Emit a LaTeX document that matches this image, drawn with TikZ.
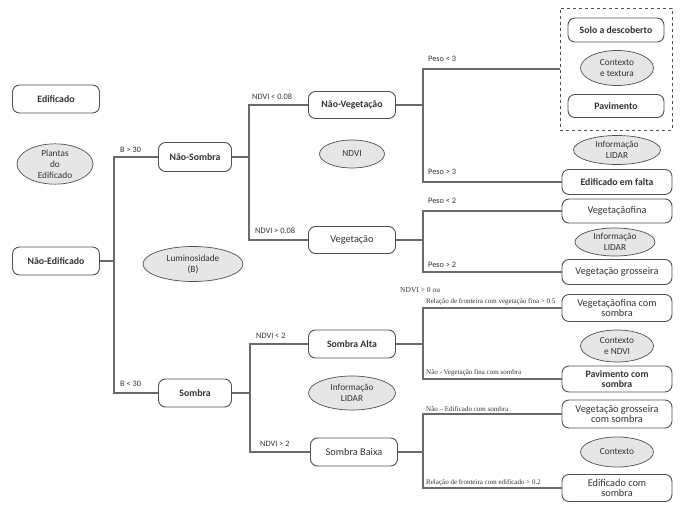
\documentclass[tikz,border=0pt]{standalone}
\usepackage{fontspec}
\setmainfont{Carlito}
\newfontfamily\tinyserif{Liberation Serif}
\usetikzlibrary{shapes.geometric}
\definecolor{ln}{HTML}{6A6A6A}
\definecolor{bd}{HTML}{505050}
\definecolor{tx}{HTML}{333333}
\definecolor{ef}{HTML}{E6E6E6}
\tikzset{
  rbox/.style={draw=bd, line width=0.9pt, rounded corners=7pt, fill=white, text=tx, font=\fontsize{10.3}{11}\selectfont, align=center, inner sep=1pt},
  bbox/.style={rbox, font=\bfseries\fontsize{9.8}{11}\selectfont},
  ell/.style={ellipse, draw=bd, line width=0.7pt, fill=ef, text=tx, font=\fontsize{9.3}{11}\selectfont, align=center, inner sep=0pt},
  conn/.style={draw=ln, line width=1.1pt},
  elab/.style={text=tx, font=\fontsize{8.3}{9}\selectfont, inner sep=0pt, anchor=west},
  slab/.style={text=tx, font=\tinyserif\fontsize{7}{7}\selectfont, inner sep=0pt, anchor=west},
}
\begin{document}
\begin{tikzpicture}[x=1pt,y=-1pt]
\useasboundingbox (0,0) rectangle (683,505);
% level 0
\node[bbox, minimum width=87, minimum height=28] (edif) at (56,99) {Edificado};
\node[ell, minimum width=76, minimum height=38] (plantas) at (55,164) {Plantas\\do\\Edificado};
\node[bbox, minimum width=87, minimum height=28] (nedif) at (56,261) {Não-Edificado};
\node[ell, minimum width=100, minimum height=35] (lum) at (193,264) {Luminosidade\\(B)};
% level 1
\node[bbox, minimum width=73, minimum height=29] (nsomb) at (195,157) {Não-Sombra};
\node[bbox, minimum width=73, minimum height=28] (somb) at (195,393) {Sombra};
\coordinate (j1) at (114,261);
\draw[conn] (nedif.east) -- (j1);
\draw[conn] (nsomb.west) -| (j1) |- (somb.west);
\node[elab] at (120,150) {B > 30};
\node[elab] at (120,384) {B < 30};
% level 2 top
\node[bbox, minimum width=87, minimum height=27] (nveg) at (352,105) {Não-Vegetação};
\node[ell, minimum width=65, minimum height=28] (ndvi) at (352,154) {NDVI};
\node[rbox, minimum width=87, minimum height=27] (veg) at (352,240) {Vegetação};
\coordinate (j2) at (249,157);
\draw[conn] (nsomb.east) -- (j2);
\draw[conn] (nveg.west) -| (j2) |- (veg.west);
\node[elab] at (252,97) {NDVI < 0.08};
\node[elab] at (255,231) {NDVI > 0.08};
% level 2 bottom
\node[bbox, minimum width=87, minimum height=28] (salta) at (352,344) {Sombra Alta};
\node[ell, minimum width=87, minimum height=34] (lidar3) at (352,393) {Informação\\LIDAR};
\node[rbox, minimum width=87, minimum height=28] (sbaixa) at (354,452) {Sombra Baixa};
\coordinate (j3) at (250,393);
\draw[conn] (somb.east) -- (j3);
\draw[conn] (salta.west) -| (j3) |- (sbaixa.west);
\node[elab] at (256,336) {NDVI < 2};
\node[elab] at (260,444) {NDVI > 2};
% right column: Não-Vegetação
\node[draw=bd, dashed, line width=0.7pt, minimum width=112, minimum height=122, inner sep=0pt] (dbox) at (616,69) {};
\node[bbox, minimum width=96, minimum height=24] (solo) at (616,30) {Solo a descoberto};
\node[ell, minimum width=73, minimum height=35] (ctx1) at (617,68) {Contexto\\e textura};
\node[bbox, minimum width=96, minimum height=23] (pav) at (616,106) {Pavimento};
\node[ell, minimum width=87, minimum height=29] (lidar1) at (617,150) {Informação\\LIDAR};
\node[bbox, minimum width=110, minimum height=25] (efalta) at (617,182) {Edificado em falta};
\coordinate (j4) at (423,105);
\draw[conn] (nveg.east) -- (j4);
\draw[conn] (dbox.west) -| (j4) |- (efalta.west);
\node[elab] at (428,59) {Peso < 3};
\node[elab] at (428,172) {Peso > 3};
% Vegetação
\node[rbox, minimum width=110, minimum height=24] (vfina) at (617,211) {Vegetaçãofina};
\node[ell, minimum width=80, minimum height=28] (lidar2) at (615,242) {Informação\\LIDAR};
\node[rbox, minimum width=110, minimum height=25] (vgross) at (617,272) {Vegetação grosseira};
\coordinate (j5) at (423,240);
\draw[conn] (veg.east) -- (j5);
\draw[conn] (vfina.west) -| (j5) |- (vgross.west);
\node[elab] at (428,201) {Peso < 2};
\node[elab] at (428,265) {Peso > 2};
% Sombra Alta
\node[rbox, minimum width=110, minimum height=27, font=\fontsize{10.3}{10}\selectfont] (vfsomb) at (617,308) {Vegetaçãofina com\\sombra};
\node[ell, minimum width=73, minimum height=32] (ctx2) at (617,346) {Contexto\\e NDVI};
\node[bbox, minimum width=110, minimum height=26, font=\bfseries\fontsize{9.8}{10}\selectfont] (pavsomb) at (617,379) {Pavimento com\\sombra};
\coordinate (j6) at (423,344);
\draw[conn] (salta.east) -- (j6);
\draw[conn] (vfsomb.west) -| (j6) |- (pavsomb.west);
\node[slab, font=\tinyserif\fontsize{7.5}{8}\selectfont] at (400,290) {NDVI > 0 ou};
\node[slab] at (426,302) {Relação de fronteira com vegetação fina > 0.5};
\node[slab] at (426,373) {Não - Vegetação  fina com sombra};
% Sombra Baixa
\node[rbox, minimum width=110, minimum height=28, font=\fontsize{10.3}{10}\selectfont] (vgsomb) at (617,414) {Vegetação grosseira\\com sombra};
\node[ell, minimum width=73, minimum height=30] (ctx3) at (617,452) {Contexto};
\node[rbox, minimum width=110, minimum height=27, font=\fontsize{10.3}{10}\selectfont] (esomb) at (617,488) {Edificado com\\sombra};
\coordinate (j7) at (423,452);
\draw[conn] (sbaixa.east) -- (j7);
\draw[conn] (vgsomb.west) -| (j7) |- (esomb.west);
\node[slab] at (426,409) {Não – Edificado com sombra};
\node[slab] at (426,483) {Relação de fronteira com edificado > 0.2};
\end{tikzpicture}
\end{document}
